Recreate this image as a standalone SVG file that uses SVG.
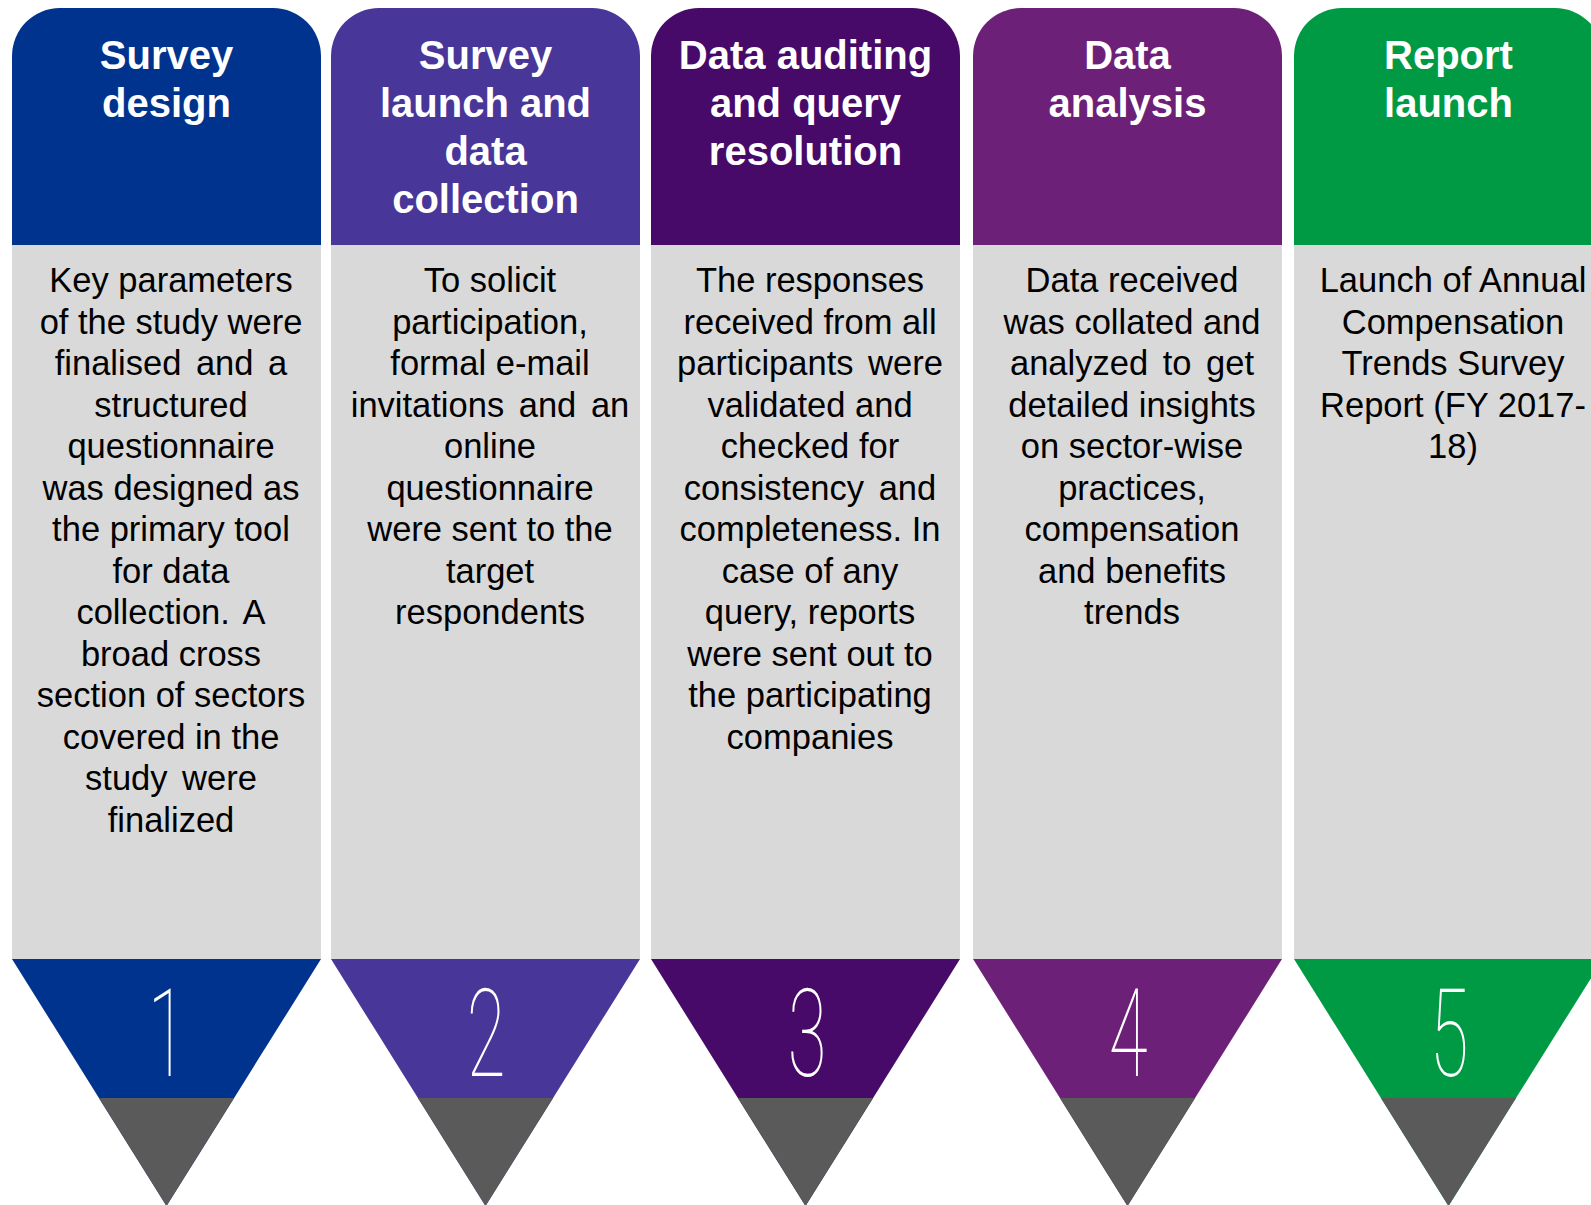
<svg xmlns="http://www.w3.org/2000/svg" width="1591" height="1205" viewBox="0 0 1591 1205">
<style>
.hd{font-family:"Liberation Sans",Arial,sans-serif;font-weight:bold;font-size:40px;fill:#fff;text-anchor:middle}
.bd{font-family:"Liberation Sans",Arial,sans-serif;font-size:34.5px;fill:#000;text-anchor:middle}
.ws{word-spacing:5px}
.num{font-family:Roboto,Inter,"DejaVu Sans",sans-serif;font-weight:100;font-size:122px;fill:#fff;text-anchor:middle}
.body{fill:#D9D9D9}
.tip{fill:#5A5A5A}
</style>
<rect width="1591" height="1205" fill="#fff"/>
<g id="step1">
<path d="M12,246 V56 A48,48 0 0 1 60,8 H273 A48,48 0 0 1 321,56 V246 Z" fill="#00338D"/>
<rect class="body" x="12" y="245" width="309" height="714"/>
<polygon points="12,959 321,959 166.5,1206" fill="#00338D"/>
<polygon class="tip" points="98.9,1098 234.1,1098 166.5,1206"/>
<text class="hd" x="166.5" y="69">Survey</text>
<text class="hd" x="166.5" y="117">design</text>
<text class="bd"><tspan x="171" y="292">Key parameters</tspan><tspan x="171" y="333.5">of the study were</tspan><tspan class="ws" x="171" y="375">finalised and a</tspan><tspan x="171" y="416.5">structured</tspan><tspan x="171" y="458">questionnaire</tspan><tspan x="171" y="499.5">was designed as</tspan><tspan x="171" y="541">the primary tool</tspan><tspan x="171" y="582.5">for data</tspan><tspan class="ws" x="171" y="624">collection. A</tspan><tspan x="171" y="665.5">broad cross</tspan><tspan x="171" y="707">section of sectors</tspan><tspan x="171" y="748.5">covered in the</tspan><tspan class="ws" x="171" y="790">study were</tspan><tspan x="171" y="831.5">finalized</tspan></text>
<text class="num" transform="translate(167,1076) scale(0.58,1)">1</text>
</g>
<g id="step2">
<path d="M331,246 V56 A48,48 0 0 1 379,8 H592 A48,48 0 0 1 640,56 V246 Z" fill="#483698"/>
<rect class="body" x="331" y="245" width="309" height="714"/>
<polygon points="331,959 640,959 485.5,1206" fill="#483698"/>
<polygon class="tip" points="417.9,1098 553.1,1098 485.5,1206"/>
<text class="hd" x="485.5" y="69">Survey</text>
<text class="hd" x="485.5" y="117">launch and</text>
<text class="hd" x="485.5" y="165">data</text>
<text class="hd" x="485.5" y="213">collection</text>
<text class="bd"><tspan x="490" y="292">To solicit</tspan><tspan x="490" y="333.5">participation,</tspan><tspan x="490" y="375">formal e-mail</tspan><tspan class="ws" x="490" y="416.5">invitations and an</tspan><tspan x="490" y="458">online</tspan><tspan x="490" y="499.5">questionnaire</tspan><tspan x="490" y="541">were sent to the</tspan><tspan x="490" y="582.5">target</tspan><tspan x="490" y="624">respondents</tspan></text>
<text class="num" transform="translate(486,1076) scale(0.58,1)">2</text>
</g>
<g id="step3">
<path d="M651,246 V56 A48,48 0 0 1 699,8 H912 A48,48 0 0 1 960,56 V246 Z" fill="#470A68"/>
<rect class="body" x="651" y="245" width="309" height="714"/>
<polygon points="651,959 960,959 805.5,1206" fill="#470A68"/>
<polygon class="tip" points="737.9,1098 873.1,1098 805.5,1206"/>
<text class="hd" x="805.5" y="69">Data auditing</text>
<text class="hd" x="805.5" y="117">and query</text>
<text class="hd" x="805.5" y="165">resolution</text>
<text class="bd"><tspan x="810" y="292">The responses</tspan><tspan x="810" y="333.5">received from all</tspan><tspan class="ws" x="810" y="375">participants were</tspan><tspan x="810" y="416.5">validated and</tspan><tspan x="810" y="458">checked for</tspan><tspan class="ws" x="810" y="499.5">consistency and</tspan><tspan x="810" y="541">completeness. In</tspan><tspan x="810" y="582.5">case of any</tspan><tspan x="810" y="624">query, reports</tspan><tspan x="810" y="665.5">were sent out to</tspan><tspan x="810" y="707">the participating</tspan><tspan x="810" y="748.5">companies</tspan></text>
<text class="num" transform="translate(807,1076) scale(0.58,1)">3</text>
</g>
<g id="step4">
<path d="M973,246 V56 A48,48 0 0 1 1021,8 H1234 A48,48 0 0 1 1282,56 V246 Z" fill="#6D2077"/>
<rect class="body" x="973" y="245" width="309" height="714"/>
<polygon points="973,959 1282,959 1127.5,1206" fill="#6D2077"/>
<polygon class="tip" points="1059.9,1098 1195.1,1098 1127.5,1206"/>
<text class="hd" x="1127.5" y="69">Data</text>
<text class="hd" x="1127.5" y="117">analysis</text>
<text class="bd"><tspan x="1132" y="292">Data received</tspan><tspan x="1132" y="333.5">was collated and</tspan><tspan class="ws" x="1132" y="375">analyzed to get</tspan><tspan x="1132" y="416.5">detailed insights</tspan><tspan x="1132" y="458">on sector-wise</tspan><tspan x="1132" y="499.5">practices,</tspan><tspan x="1132" y="541">compensation</tspan><tspan x="1132" y="582.5">and benefits</tspan><tspan x="1132" y="624">trends</tspan></text>
<text class="num" transform="translate(1128,1076) scale(0.58,1)">4</text>
</g>
<g id="step5">
<path d="M1294,246 V56 A48,48 0 0 1 1342,8 H1555 A48,48 0 0 1 1603,56 V246 Z" fill="#009A44"/>
<rect class="body" x="1294" y="245" width="309" height="714"/>
<polygon points="1294,959 1603,959 1448.5,1206" fill="#009A44"/>
<polygon class="tip" points="1380.9,1098 1516.1,1098 1448.5,1206"/>
<text class="hd" x="1448.5" y="69">Report</text>
<text class="hd" x="1448.5" y="117">launch</text>
<text class="bd"><tspan x="1453" y="292">Launch of Annual</tspan><tspan x="1453" y="333.5">Compensation</tspan><tspan x="1453" y="375">Trends Survey</tspan><tspan x="1453" y="416.5">Report (FY 2017-</tspan><tspan x="1453" y="458">18)</tspan></text>
<text class="num" transform="translate(1449,1076) scale(0.58,1)">5</text>
</g>
<g id="connectors"></g>
</svg>
